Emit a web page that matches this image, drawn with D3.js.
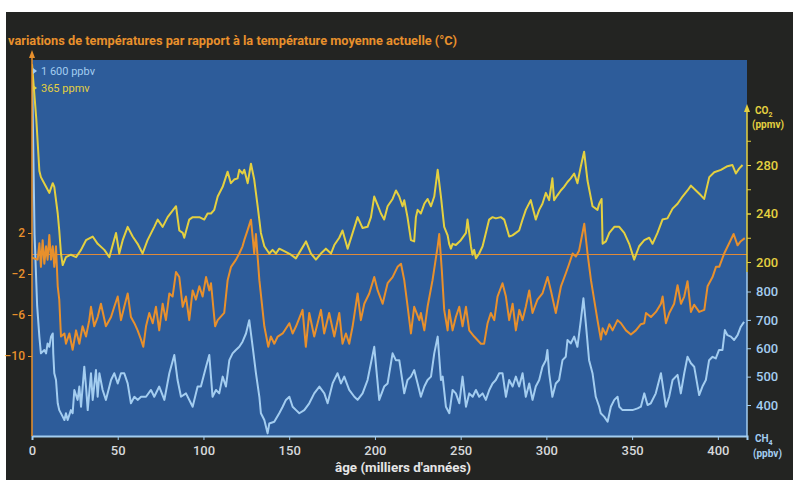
<!DOCTYPE html>
<html><head><meta charset="utf-8">
<script src="https://cdn.jsdelivr.net/npm/d3@7/dist/d3.min.js"></script>
<style>body{margin:0;background:#fff;overflow:hidden} svg{display:block}</style>
</head><body>
<svg id="c" width="793" height="480"></svg>
<script>
// ---- data (age in thousands of years, value) ----
const tempData = [[0,-0.4],[3.3,-0.6],[4.3,1.0],[5.2,-1.3],[6.2,1.3],[7.2,-1.0],[8.2,0.7],[9.1,-0.6],[10.1,1.8],[11.1,-0.6],[12.1,0.7],[13.0,-1.3],[14.0,0.7],[15.0,-3.2],[15.9,-4.5],[16.9,-8.1],[18.9,-7.8],[19.8,-8.8],[21.8,-7.8],[23.7,-9.4],[25.7,-7.5],[27.6,-8.8],[29.5,-7.1],[31.5,-8.1],[33.4,-6.5],[34.4,-5.2],[36.3,-7.1],[38.3,-6.2],[40.2,-4.9],[43.1,-7.1],[46.1,-6.2],[48.0,-5.2],[50.0,-4.2],[51.9,-6.5],[53.8,-5.2],[55.8,-3.9],[57.7,-6.2],[59.7,-6.8],[61.6,-7.5],[63.6,-8.4],[64.9,-9.1],[66.5,-7.1],[68.4,-5.8],[70.4,-6.8],[72.3,-5.2],[74.2,-7.5],[76.2,-4.9],[78.1,-6.5],[80.1,-3.9],[82.0,-4.2],[84.0,-1.8],[85.9,-2.3],[87.9,-5.2],[89.8,-4.2],[91.7,-6.5],[93.7,-3.6],[95.6,-4.5],[97.6,-3.2],[99.5,-4.2],[101.5,-2.3],[103.4,-3.6],
[104.4,-2.9],[106.8,-7.1],[108.3,-6.5],[112.1,-5.8],[114.1,-2.6],[116.1,-1.3],[119.0,-0.6],[120.9,0],[122.8,0.7],[123.8,1.3],[125.8,2.3],[127.7,3.3],[128.7,1.6],[129.6,0],[130.6,1.9],[132.6,-2.6],[135.5,-7.1],[137.8,-9.1],[139.3,-8.1],[141.3,-8.8],[143.3,-8.1],[146.2,-7.8],[150.1,-6.8],[152.0,-7.8],[154.0,-7.1],[157.8,-5.5],[159.7,-9.1],[161.7,-5.8],[164.6,-8.1],[168.5,-5.5],[170.4,-7.8],[173.3,-5.8],[176.3,-8.1],[179.2,-5.8],[181.1,-8.8],[183.1,-7.8],[185.0,-8.8],[187.0,-7.1],[189.9,-3.9],[191.8,-6.5],[193.8,-4.9],[196.7,-3.9],[199.6,-2.3],[201.6,-3.6],[204.5,-4.9],[207.4,-2.9],[210.3,-2.3],[213.2,-1.3],[215.2,-1.0],
[217.1,-2.6],[219.1,-5.2],[221.0,-7.8],[222.9,-5.2],[225.9,-6.5],[226.8,-5.8],[228.8,-7.5],[230.7,-5.2],[233.6,-2.6],[236.6,0.7],[237.5,1.9],[239.0,-1.6],[240.4,-5.5],[242.4,-7.5],[243.3,-5.5],[245.3,-7.5],[247.2,-6.2],[249.2,-5.2],[251.1,-7.1],[253.1,-5.2],[255.0,-7.5],[257.9,-8.1],[261.8,-8.8],[263.7,-8.8],[265.7,-6.8],[267.6,-5.8],[269.6,-6.5],[271.5,-4.2],[274.4,-2.9],[276.4,-4.2],[278.3,-6.5],[280.3,-4.9],[282.2,-7.5],[284.2,-5.5],[286.1,-6.5],[288.0,-5.2],[290.0,-3.6],[291.9,-5.8],[294.8,-4.5],[297.7,-3.9],[300.7,-2.3],[302.6,-3.6],[305.5,-5.8],[308.5,-3.2],[311.4,-1.9],[313.3,-1.0],[315.3,0],[317.2,-0.3],[319.1,0.3],[322.1,2.9],[324.0,0],[326.0,-2.6],[329.8,-6.5],[331.8,-8.4],
[332.8,-7.3],[334.7,-7.9],[336.7,-6.9],[338.6,-7.5],[341.5,-6.5],[343.5,-6.8],[346.4,-7.5],[349.3,-7.9],[352.2,-7.5],[355.1,-6.9],[357.1,-6.8],[358.1,-5.8],[361.0,-6.2],[363.9,-5.7],[366.8,-4.9],[367.8,-4.2],[369.7,-6.8],[371.7,-5.8],[374.5,-4.9],[376.5,-3.1],[378.5,-4.9],[380.4,-4.2],[382.3,-2.7],[384.3,-5.7],[386.2,-5.0],[389.1,-5.7],[392.1,-5.5],[394.0,-3.2],[396.9,-2.3],[398.9,-1.3],[400.8,-1.3],[403.7,0],[406.6,1.0],[409.2,1.9],[411.5,0.8],[413.4,1.2],[415.7,1.5]];

const co2Data = [[0,363],[2.5,318],[4.3,275],[5.2,270],[8.2,262],[10.1,257],[12.1,265],[13,262],[15,240],[15.9,226],[16.9,207],[17.9,197.5],[19.8,204],[22.7,206],[25.7,204],[28.6,210],[31.5,218],[35.4,221],[38.3,215],[42.2,210],[45.1,204],[49,224],[50.9,207],[52.9,218],[55.8,229],[58.7,221],[61.6,215],[64.5,207],[67.4,218],[71.3,229],[73.3,235],[76.2,229],[79.1,237],[84,246],[85.9,226],[87.9,224],[88.8,220],[91.7,235],[93.7,237],[97.6,237],[100.5,235],[102.4,240],
[104.4,240],[106.3,243],[108.3,254],[111.2,262],[114.1,274.5],[116,265],[117.9,268],[119.9,269],[120.9,276],[122.8,273],[123.8,276],[125.8,265],[127.7,281],[129.6,268],[131.6,246],[133.5,224],[135.5,213],[138.4,207],[140.3,210],[142.3,207],[144.2,211],[147.1,209],[151,206],[153.9,203],[156.9,210],[159.8,217],[162.7,207],[165.6,202],[168.5,207],[171.4,211],[174.4,207],[176.3,214],[179.2,220],[181.1,226],[184.1,211],[187,224],[189.9,237],[192.8,228],[195.7,229],[197.7,237],[199.6,254],[201.6,247],[203.5,240],[205.4,235],[207.4,246],[210.3,252],[212.3,259],[214.2,254],[216.1,246],[217.1,251],[219,237],[221,218],
[222.9,217],[223.9,237],[224.9,243],[226.8,240],[228.8,248],[230.7,252],[232.7,246],[234.6,254],[236.6,276],[238.5,254],[240.4,229],[242.4,222],[243.3,215],[244.3,211],[245.3,215],[247.2,214],[250.1,218],[253.1,224],[254,235],[256,213],[256.9,206],[257.9,210],[258.9,203],[260.8,207],[262.8,213],[264.7,224],[266.6,235],[268.6,237],[270.5,236],[273.4,237],[275.4,235],[277.3,226],[278.3,221],[280.2,222],[282.2,224],[284.1,226],[286.1,235],[288,243],[290.9,251],[293.8,235],[295.8,243],[297.7,248],[299.7,257],[301.6,251],[303.5,269],[304.5,251],[306.4,255],[308.4,259],[310.3,262],[312.3,266],[314.2,269],[316.2,273],[318.1,265],[320.1,279],[322,291],[324,267],[326.9,246],[329.8,243],
[330.8,248],[332.2,252],[332.8,215],[334.7,217],[336.7,224],[339.6,229],[342.5,229],[345.4,224],[348.3,215],[351.2,202],[354.1,213],[357.1,218],[360,220],[361.9,215],[364.8,224],[367.7,235],[370.6,236],[373.6,244],[376.5,248],[379.4,254],[382.3,259],[384.3,263],[387.2,259],[390.1,255],[392,252],[395,270],[397.9,274],[401.8,276],[405.6,279],[408.5,280],[410.5,273],[412.4,277],[414.4,280]];

const ch4Data = [[0,1600],[1.5,1000],[3,750],[4.3,640],[5.2,582],[7.2,594],[8.2,582],[9.1,617],[10.1,605],[11.1,641],[12.1,652],[12.4,582],[13,512],[14,488],[15,406],[15.9,382],[17.9,359],[18.9,347],[19.8,371],[20.8,347],[22.7,382],[23.7,371],[24.7,453],[26.6,418],[27.6,465],[28.6,394],[30.5,535],[31.5,465],[32.5,382],[34.4,512],[35.4,418],[37.3,523],[38.3,429],[39.3,512],[41.2,453],[43.1,418],[46.1,488],[48,512],[50,476],[51.9,512],[53.8,512],[55.8,476],[57.7,406],[59.7,429],[61.6,418],[63.6,429],[66.5,429],[69.4,453],[71.3,429],[74.2,465],[77.2,418],[80.1,512],[83,576],[84.9,488],[86.9,429],[89.8,441],[93.7,394],[96.6,465],[98.5,465],[101.5,535],[103.4,576],
[105.3,429],[107.3,453],[109.2,441],[111.2,500],[113.1,465],[115.1,558],[117,582],[118.9,594],[120.9,605],[122.8,623],[124.8,652],[126.7,699],[128.7,605],[130.6,512],[132.6,429],[133.5,371],[135.5,347],[137.4,300],[138.4,335],[141.3,341],[144.2,371],[146.2,394],[148.1,418],[150.1,429],[152,394],[154,382],[155.9,371],[158.8,382],[161.7,406],[164.6,441],[167.6,465],[170.5,441],[172.4,406],[175.3,476],[178.2,512],[180.2,476],[182.1,500],[185,453],[188,429],[189.9,418],[192.8,441],[195.7,488],[199.6,605],[202.5,418],[205.4,465],[207.4,476],[210.3,582],[212.2,558],[214.2,558],[217.1,441],[219,488],[221,500],
[222.9,523],[224.9,476],[226.8,429],[228.8,465],[230.7,488],[232.7,500],[234.6,582],[236.6,641],[238.5,488],[239.5,500],[241.4,394],[243.4,371],[245.3,453],[247.2,441],[249.2,406],[251.1,500],[253.1,394],[255,441],[257,429],[258.9,453],[260.8,429],[262.8,441],[264.7,418],[266.7,453],[268.6,476],[270.5,488],[272.5,512],[274.4,512],[276.4,429],[278.3,488],[280.3,465],[282.2,500],[284.1,465],[286.1,512],[288,429],[290,476],[291.9,418],[293.8,465],[295.8,488],[297.7,535],[299.7,558],[300.6,594],[301.6,512],[303.5,429],[305.5,476],[307.4,488],[309.4,558],[311.3,570],[312.3,629],[314.2,617],[316.2,641],[318.1,605],[320.1,699],[321.6,776],[323,688],[324.9,558],[326.9,512],[328.8,429],[330.8,394],[331.7,371],
[333.7,359],[335.7,341],[337.6,394],[339.6,418],[341.5,429],[342.5,394],[344.4,382],[347.3,382],[350.2,382],[353.2,388],[355.1,394],[357.1,441],[359,400],[360.9,406],[363.8,441],[366.8,512],[369.7,394],[371.6,429],[373.6,488],[376.5,506],[378.4,441],[380.4,512],[382.3,570],[384.3,547],[386.2,535],[389.1,435],[391,465],[393,488],[394.9,558],[396.9,570],[398.8,564],[400.7,594],[402.7,594],[404.1,664],[405.6,646],[407.6,641],[409.5,629],[411.5,646],[413.4,676],[415.3,693]];

const xTicks = [0,50,100,150,200,250,300,350,400];
const tempTicks = [2,-2,-6,-10];
const co2Ticks = [200,240,280];
const co2MinorTicks = [200,220,240,260,280,300];
const ch4Ticks = [400,500,600,700,800];
const titleText = "variations de températures par rapport à la température moyenne actuelle (°C)";
const xTitle = "âge (milliers d'années)";
const topLabels = ["1 600 ppbv","365 ppmv"];

// ---- styling / layout ----
const W=793,H=480;
const P={l:32,r:747,t:60,b:436};
const C={dark:"#232422",blue:"#2d5c9a",orange:"#e8902c",zero:"#e08a38",yellow:"#e4d040",light:"#a3cdf0",txt:"#d6d8da"};
const F="Roboto, 'DejaVu Sans', sans-serif";

const svg=d3.select("#c");
svg.append("rect").attr("width",W).attr("height",H).attr("fill","#fff");
svg.append("rect").attr("x",6).attr("y",12).attr("width",W-6).attr("height",H-12).attr("fill",C.dark);
svg.append("rect").attr("x",P.l).attr("y",P.t).attr("width",P.r-P.l).attr("height",P.b-P.t).attr("fill",C.blue);

const x=d3.scaleLinear().domain([0,417]).range([P.l,P.r]);
const tY=d3.scaleLinear().domain([-10,2]).range([356,233]);
const cY=d3.scaleLinear().domain([200,280]).range([262,165]);
const mY=d3.scaleLinear().domain([400,800]).range([405,291.5]);

const defs=svg.append("defs");
defs.append("clipPath").attr("id","clip").append("rect")
  .attr("x",P.l).attr("y",P.t).attr("width",P.r-P.l).attr("height",P.b-P.t);

// zero temperature reference line
const y0=Math.round(tY(0))+0.5;
svg.append("line").attr("x1",P.l).attr("x2",P.r).attr("y1",y0).attr("y2",y0)
  .attr("stroke",C.zero).attr("stroke-width",1);

const g=svg.append("g").attr("clip-path","url(#clip)");
function draw(data,ys,col){
  g.append("path").datum(data)
   .attr("d",d3.line().x(d=>x(d[0])).y(d=>ys(d[1])))
   .attr("fill","none").attr("stroke",col).attr("stroke-width",2)
   .attr("stroke-linejoin","round");
}
draw(ch4Data,mY,C.light);
draw(tempData,tY,C.orange);
draw(co2Data,cY,C.yellow);

// bottom axis
const xa=svg.append("g").attr("transform",`translate(0,${P.b})`)
  .call(d3.axisBottom(x).tickValues(xTicks).tickSize(4).tickPadding(6).tickFormat(d3.format("d")));
xa.select(".domain").attr("stroke",C.light).attr("stroke-width",2);
xa.selectAll(".tick line").attr("stroke",C.light);
xa.selectAll("text").attr("fill",C.txt).style("font",`500 13px ${F}`);
svg.append("text").attr("x",403).attr("y",472).attr("text-anchor","middle")
  .attr("fill","#e6e6e6").style("font",`bold 13px ${F}`)
  .attr("textLength",136).attr("lengthAdjust","spacingAndGlyphs").text(xTitle);

// left axis (temperature)
svg.append("line").attr("x1",P.l).attr("x2",P.l).attr("y1",54).attr("y2",P.b)
  .attr("stroke",C.orange).attr("stroke-width",1.5);
svg.append("path").attr("d",`M${P.l-3},${58} L${P.l},${50} L${P.l+3},${58} Z`).attr("fill",C.orange);
const la=svg.append("g").attr("transform",`translate(${P.l},0)`)
  .call(d3.axisLeft(tY).tickValues(tempTicks).tickSize(4).tickPadding(3));
la.select(".domain").remove();
la.selectAll(".tick line").attr("stroke",C.orange);
la.selectAll("text").attr("fill",C.orange).style("font",`500 12px ${F}`);

// top-left labels
[[topLabels[0],71,C.light],[topLabels[1],88,C.yellow]].forEach(([t,y,col])=>{
  svg.append("path").attr("d",`M${P.l+1},${y-3} L${P.l+5},${y} L${P.l+1},${y+3} Z`).attr("fill",col);
  svg.append("text").attr("x",P.l+9).attr("y",y+4).attr("fill",col)
    .style("font",`11px ${F}`).text(t);
});

// title
svg.append("text").attr("x",8).attr("y",45).attr("fill",C.orange)
  .style("font",`bold 13px ${F}`).attr("textLength",449).attr("lengthAdjust","spacingAndGlyphs")
  .text(titleText);

// right axis CO2
svg.append("line").attr("x1",P.r).attr("x2",P.r).attr("y1",108).attr("y2",272)
  .attr("stroke",C.yellow).attr("stroke-width",1.5);
svg.append("path").attr("d",`M${P.r-3},${112} L${P.r},${104} L${P.r+3},${112} Z`).attr("fill",C.yellow);
const ca=svg.append("g").attr("transform",`translate(${P.r},0)`)
  .call(d3.axisRight(cY).tickValues(co2MinorTicks).tickSize(4).tickFormat(""));
ca.select(".domain").remove();
ca.selectAll(".tick line").attr("stroke",C.yellow);
const ca2=svg.append("g").attr("transform",`translate(${P.r},0)`)
  .call(d3.axisRight(cY).tickValues(co2Ticks).tickSize(4).tickPadding(5));
ca2.select(".domain").remove();
ca2.selectAll(".tick line").attr("stroke",C.yellow);
ca2.selectAll("text").attr("fill",C.yellow).style("font",`500 13px ${F}`);
const co2t=svg.append("text").attr("x",755).attr("y",114).attr("fill",C.yellow).style("font",`bold 10px ${F}`);
co2t.append("tspan").text("CO");
co2t.append("tspan").attr("dy",3).style("font-size","7px").text("2");
svg.append("text").attr("x",752).attr("y",128).attr("fill",C.yellow).style("font",`bold 10px ${F}`).text("(ppmv)");

// right axis CH4
svg.append("line").attr("x1",P.r).attr("x2",P.r).attr("y1",272).attr("y2",P.b)
  .attr("stroke",C.light).attr("stroke-width",1.5);
const ma=svg.append("g").attr("transform",`translate(${P.r},0)`)
  .call(d3.axisRight(mY).tickValues(ch4Ticks).tickSize(4).tickPadding(5));
ma.select(".domain").remove();
ma.selectAll(".tick line").attr("stroke",C.light);
ma.selectAll("text").attr("fill",C.light).style("font",`500 13px ${F}`);
const ch4t=svg.append("text").attr("x",755).attr("y",442).attr("fill",C.light).style("font",`bold 10px ${F}`);
ch4t.append("tspan").text("CH");
ch4t.append("tspan").attr("dy",3).style("font-size","7px").text("4");
svg.append("text").attr("x",753).attr("y",457).attr("fill",C.light).style("font",`bold 10px ${F}`).text("(ppbv)");
</script>
</body></html>
